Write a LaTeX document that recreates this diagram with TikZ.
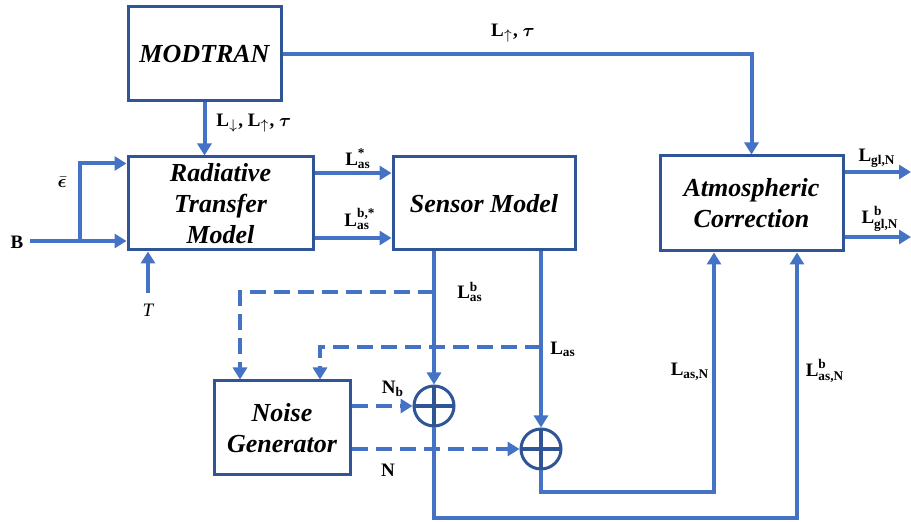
\documentclass[tikz,border=0pt]{standalone}
\usepackage{amsmath}
\usepackage{fontspec}
\setmainfont{Liberation Serif}
\usepackage{bm}
\usepackage{xcolor}
\definecolor{linecol}{HTML}{4472C4}
\definecolor{boxcol}{HTML}{2F5597}
\usetikzlibrary{arrows.meta, calc}
\newcommand{\lsym}[2]{$\textbf{L}^{\textbf{#1}}_{\textbf{#2}}$}
\newcommand{\lsub}[1]{$\textbf{L}_{\textbf{#1}}$}

\begin{document}
\begin{tikzpicture}[x=0.5pt, y=-0.5pt,
  block/.style={draw=boxcol, line width=1.5pt, fill=white, align=center, inner sep=0pt,
    font=\fontsize{13}{15.5}\selectfont\bfseries\itshape},
  summer/.style={circle, draw=boxcol, line width=1.5pt, minimum size=20pt, inner sep=0pt,
    path picture={\draw[boxcol, line width=2pt]
      (path picture bounding box.north) -- (path picture bounding box.south)
      (path picture bounding box.west) -- (path picture bounding box.east);}},
  sig/.style={linecol, line width=2pt, -{Triangle[width=7pt,length=6pt]}},
  dashy/.style={dash pattern=on 8pt off 4pt},
  lbl/.style={font=\fontsize{9.5}{11}\selectfont\bfseries, inner sep=1pt}]
  \useasboundingbox (0,0) rectangle (911,522);

  \node[block, minimum width=76.5pt, minimum height=47pt]   (modtran) at (204.5,54)  {MODTRAN};
  \node[block, minimum width=92.5pt, minimum height=46.5pt] (rtm)     at (220.5,203.5) {Radiative\\Transfer\\Model};
  \node[block, minimum width=91pt,   minimum height=46.5pt] (sensor)  at (484,203.5) {Sensor Model};
  \node[block, minimum width=91.5pt, minimum height=47.5pt] (ac)      at (751.5,203.5) {Atmospheric\\Correction};
  \node[block, minimum width=68pt,   minimum height=47pt]   (noise)   at (282,428)   {Noise\\Generator};
  \node[summer] (sum1) at (434,406) {};
  \node[summer] (sum2) at (541,449) {};

  \coordinate (bin)    at (30,241);
  \coordinate (bsplit) at (80,241);
  \coordinate (tin)    at (148,293);
  \coordinate (tapb)   at (434,292);
  \coordinate (tapa)   at (541,347);
  \coordinate (out1)   at (911,172);
  \coordinate (out2)   at (911,237);

  \draw[sig] (modtran.south) -- (modtran.south |- rtm.north);
  \draw[sig] (modtran.east) -| (ac.north);
  \draw[sig] (bin) -- (bin -| rtm.west);
  \draw[sig] (bsplit) |- ($(rtm.west)+(0,-40)$);
  \draw[sig] (tin) -- (tin |- rtm.south);
  \draw[sig] ($(rtm.east)+(0,-30.5)$) -- ($(sensor.west)+(0,-30.5)$);
  \draw[sig] ($(rtm.east)+(0,34.5)$) -- ($(sensor.west)+(0,34.5)$);
  \draw[sig] (sum1 |- sensor.south) -- (sum1.north);
  \draw[sig] (sum2 |- sensor.south) -- (sum2.north);
  \draw[sig, dashy] (tapb) -| ($(noise.north)+(-42,0)$);
  \draw[sig, dashy] (tapa) -| ($(noise.north)+(38,0)$);
  \draw[sig, dashy] (noise.east |- sum1) -- (sum1.west);
  \draw[sig, dashy] (noise.east |- sum2) -- (sum2.west);
  \draw[sig] (sum1.south) -- (sum1 |- 0,518) -| ($(ac.south)+(45.5,0)$);
  \draw[sig] (sum2.south) -- (sum2 |- 0,492) -| ($(ac.south)+(-37.5,0)$);
  \draw[sig] (ac.east |- out1) -- (out1);
  \draw[sig] (ac.east |- out2) -- (out2);

  \node[lbl, anchor=west] (lmod) at (214,123) {$\textbf{L}_{\downarrow}$, $\textbf{L}_{\uparrow}$, $\bm\tau$};
  \node[lbl] (lup)    at (513,33)  {$\textbf{L}_{\uparrow}$, $\bm\tau$};
  \node[lbl] (leps)   at (62,182)  {$\bar{\bm\epsilon}$};
  \node[lbl] (lb)     at (17,242)  {B};
  \node[lbl, font=\fontsize{9.5}{11}\selectfont\itshape] (lt) at (148,310) {T};
  \node[lbl] (lstar)  at (358,159) {\lsym{*}{as}};
  \node[lbl] (lbstar) at (360,219) {\lsym{b,*}{as}};
  \node[lbl] (lbas)   at (470,292) {\lsym{b}{as}};
  \node[lbl] (las)    at (563,349) {\lsub{as}};
  \node[lbl] (lnb)    at (393,389) {N$_{\textbf{b}}$};
  \node[lbl] (ln)     at (388,470) {N};
  \node[lbl] (lasn)   at (690,372) {\lsub{as,N}};
  \node[lbl] (lbasn)  at (825,371) {\lsym{b}{as,N}};
  \node[lbl] (lgl)    at (877,158) {\lsub{gl,N}};
  \node[lbl] (lbgl)   at (880,219) {\lsym{b}{gl,N}};
\end{tikzpicture}
\end{document}
